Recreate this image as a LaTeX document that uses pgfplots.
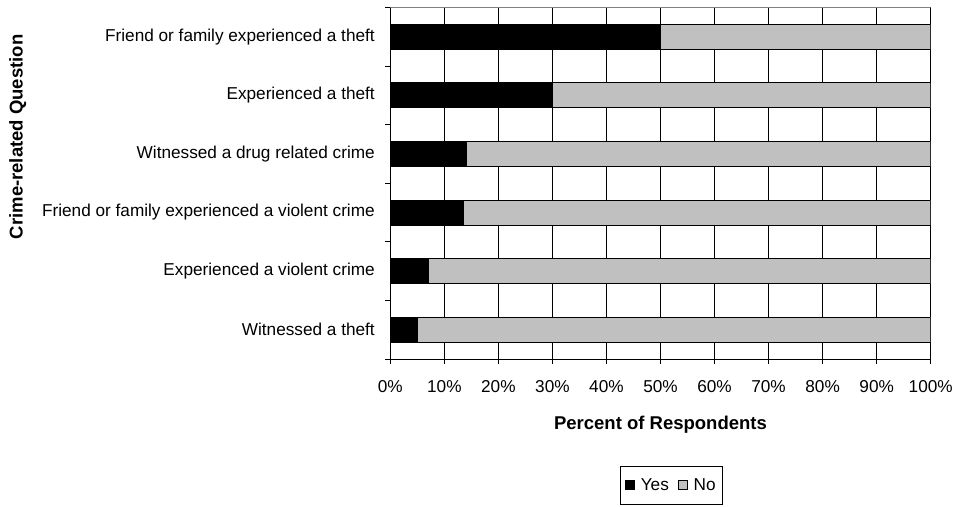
\documentclass[border=0pt]{standalone}
\usepackage{pgfplots}
\pgfplotsset{compat=1.18}
\usepackage{fontspec}
\setmainfont{Liberation Sans}
\definecolor{nogray}{HTML}{C0C0C0}
\begin{document}
\begin{tikzpicture}
\useasboundingbox (-390.3pt,-147pt) rectangle (564.7pt,359pt);
\begin{axis}[
  at={(0,0)}, anchor=south west,
  scale only axis, width=540.4pt, height=351.5pt,
  xbar stacked, bar width=25pt,
  xmin=0, xmax=100, ymin=-0.5, ymax=5.5,
  /pgf/number format/assume math mode=true,
  xtick={0,10,20,30,40,50,60,70,80,90,100},
  xticklabel={\pgfmathprintnumber{\tick}\%},
  xticklabel style={yshift=-13pt},
  ytick={-0.5,0.5,1.5,2.5,3.5,4.5,5.5},
  yticklabels={},
  extra y ticks={0,1,2,3,4,5},
  extra y tick labels={Witnessed a theft, Experienced a violent crime, Friend or family experienced a violent crime, Witnessed a drug related crime, Experienced a theft, Friend or family experienced a theft},
  extra y tick style={major tick length=0pt, yticklabel style={xshift=-12pt}},
  tick pos=left, tick align=outside, major tick length=5pt,
  tick style={black, line width=0.8pt},
  tick label style={font=\fontsize{17.2}{20}\selectfont},
  xmajorgrids, major grid style={black, line width=0.8pt},
  axis line style={black, line width=1pt},
  xlabel={Percent of Respondents},
  xlabel style={font=\bfseries\fontsize{18.5}{21}\selectfont, at={(axis description cs:0.5,-0.188)}, anchor=center},
  ylabel={Crime-related Question},
  ylabel style={font=\bfseries\fontsize{18.5}{21}\selectfont, at={(axis description cs:-0.6895,0.632)}, anchor=center},
  legend columns=2,
  legend style={at={(axis description cs:0.52,-0.305)}, anchor=north, draw=black, line width=0.8pt,
    font=\fontsize{17.2}{20}\selectfont, inner xsep=5pt, inner ysep=10pt,
    /tikz/every odd column/.append style={column sep=4pt},
    /tikz/every even column/.append style={column sep=7pt}},
  legend image code/.code={\draw[#1, draw=black, line width=0.8pt] (0pt,-4.5pt) rectangle (9pt,4.5pt);},
]
\addplot[fill=black, draw=black, line width=0.8pt] coordinates {(5,0) (7,1) (13.5,2) (14,3) (30,4) (50,5)};
\addplot[fill=nogray, draw=black, line width=0.8pt] coordinates {(95,0) (93,1) (86.5,2) (86,3) (70,4) (50,5)};
\legend{Yes, No}
\draw[gray, line width=1pt] (rel axis cs:0,1) -- (rel axis cs:1,1);
\end{axis}
\end{tikzpicture}
\end{document}
